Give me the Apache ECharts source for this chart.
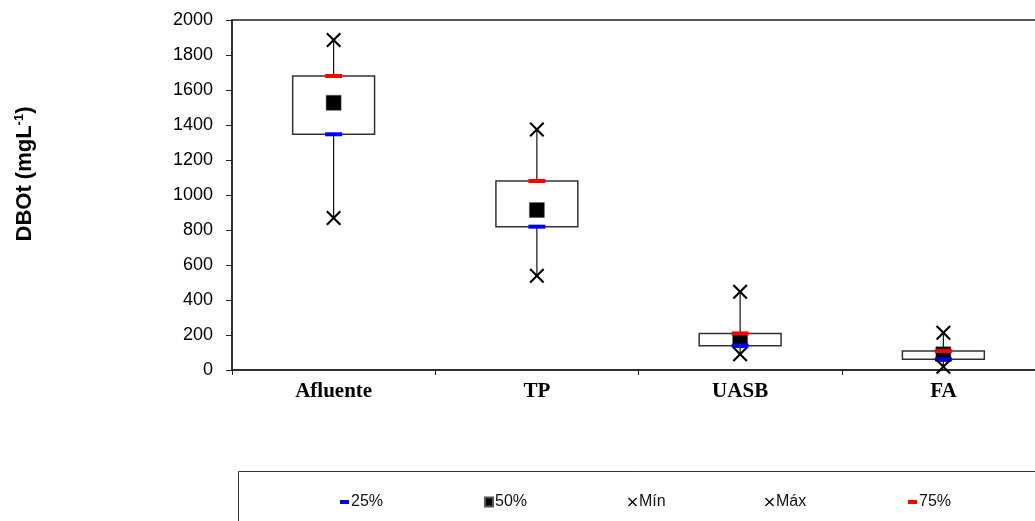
<!DOCTYPE html>
<html>
<head>
<meta charset="utf-8">
<script src="https://cdn.jsdelivr.net/npm/echarts@6/dist/echarts.min.js"></script>
<style>
html,body{margin:0;padding:0;background:#fff;}
#chart{width:1035px;height:521px;}
</style>
</head>
<body>
<div id="chart"></div>
<script>
const categories = ['Afluente', 'TP', 'UASB', 'FA'];
const minVals = [868, 539, 90, 19];
const q1Vals = [1347, 819, 139, 61];
const medVals = [1527, 914, 170, 90];
const q3Vals = [1680, 1080, 209, 108];
const maxVals = [1886, 1375, 447, 213];
const yMin = 0, yMax = 2000, yInterval = 200;

const legendNames = ['25%', '50%', 'Mín', 'Máx', '75%'];

const xPath = 'path://M0,1.4L1.4,0L7,5.6L12.6,0L14,1.4L8.4,7L14,12.6L12.6,14L7,8.4L1.4,14L0,12.6L5.6,7Z';
const sansFont = '"Liberation Sans", Arial, sans-serif';
const serifFont = '"Liberation Serif", "Times New Roman", serif';

const chart = echarts.init(document.getElementById('chart'), null, {renderer: 'canvas'});

function legendItem(name, left, icon, w, h) {
  return {
    data: [{name: name, icon: icon}],
    left: left, top: 489,
    itemWidth: w, itemHeight: h,
    selectedMode: false,
    textStyle: {fontFamily: sansFont, fontSize: 16, color: '#111', padding: [0, 0, 0, -3]}
  };
}

const option = {
  animation: false,
  backgroundColor: '#fff',
  grid: {left: 232, top: 20, width: 813, height: 350, outerBoundsMode: 'none', containLabel: false, show: true, borderColor: '#222', borderWidth: 1.5, backgroundColor: 'transparent'},
  xAxis: {
    type: 'category',
    data: categories,
    boundaryGap: true,
    axisLine: {lineStyle: {color: '#222', width: 1.5}},
    axisTick: {show: true, length: 5, lineStyle: {color: '#222'}},
    axisLabel: {fontFamily: serifFont, fontWeight: 'bold', fontSize: 21, color: '#000', margin: 11}
  },
  yAxis: {
    type: 'value',
    min: yMin, max: yMax, interval: yInterval,
    name: '{a|DBOt (mgL}{s|-1}{a|)}',
    nameLocation: 'middle',
    nameRotate: 90,
    nameGap: 196,
    nameTextStyle: {
      padding: [0, 0, 0, 42],
      rich: {
        a: {fontFamily: sansFont, fontWeight: 'bold', fontSize: 22, color: '#000'},
        s: {fontFamily: sansFont, fontWeight: 'bold', fontSize: 13, color: '#000', verticalAlign: 'top', padding: [0, 0, 10, 0]}
      }
    },
    splitLine: {show: false},
    axisLine: {show: true, lineStyle: {color: '#222', width: 1.5}},
    axisTick: {show: true, length: 6, lineStyle: {color: '#222'}},
    axisLabel: {fontFamily: sansFont, fontSize: 18, color: '#000', margin: 19, formatter: function (v) { return String(v); }}
  },
  legend: [
    legendItem('25%', 335, 'rect', 9, 4),
    legendItem('50%', 479, 'rect', 8, 9),
    legendItem('Mín', 623, xPath, 9, 9),
    legendItem('Máx', 760, xPath, 9, 9),
    legendItem('75%', 903, 'rect', 9, 4)
  ],
  graphic: [{
    type: 'rect', left: 238, top: 471, z: -10,
    shape: {width: 820, height: 70},
    style: {fill: '#fff', stroke: '#333', lineWidth: 1}
  }],
  series: [
    {
      type: 'custom',
      name: 'box',
      data: categories.map((c, i) => [i, minVals[i], q1Vals[i], q3Vals[i], maxVals[i]]),
      encode: {x: 0, y: [1, 2, 3, 4]},
      z: 2,
      renderItem: function (params, api) {
        const x = api.value(0);
        const pMin = api.coord([x, api.value(1)]);
        const pQ1 = api.coord([x, api.value(2)]);
        const pQ3 = api.coord([x, api.value(3)]);
        const pMax = api.coord([x, api.value(4)]);
        const bw = api.size([1, 0])[0] * 0.403;
        return {
          type: 'group',
          children: [
            {type: 'line', shape: {x1: pMin[0], y1: pMin[1], x2: pMax[0], y2: pMax[1]}, style: {stroke: '#111', lineWidth: 1.2}},
            {type: 'rect', shape: {x: pQ3[0] - bw / 2, y: pQ3[1], width: bw, height: pQ1[1] - pQ3[1]}, style: {fill: '#fff', stroke: '#333', lineWidth: 1.5}}
          ]
        };
      }
    },
    {
      type: 'scatter', name: '50%', z: 3,
      data: medVals,
      symbol: 'rect', symbolSize: 15,
      itemStyle: {color: '#000', borderColor: '#555', borderWidth: 0.5, opacity: 1}
    },
    {
      type: 'scatter', name: '25%', z: 4,
      data: q1Vals,
      symbol: 'rect', symbolSize: [17, 4],
      itemStyle: {color: '#0000ff', opacity: 1}
    },
    {
      type: 'scatter', name: '75%', z: 4,
      data: q3Vals,
      symbol: 'rect', symbolSize: [17, 4],
      itemStyle: {color: '#ff0000', opacity: 1}
    },
    {
      type: 'scatter', name: 'Mín', z: 5,
      data: minVals,
      symbol: xPath, symbolSize: 15,
      itemStyle: {color: '#000', opacity: 1}
    },
    {
      type: 'scatter', name: 'Máx', z: 5,
      data: maxVals,
      symbol: xPath, symbolSize: 15,
      itemStyle: {color: '#000', opacity: 1}
    }
  ]
};
chart.setOption(option);
</script>
</body>
</html>
